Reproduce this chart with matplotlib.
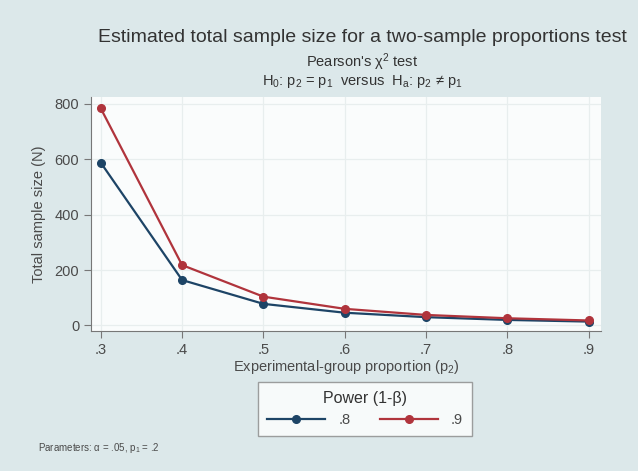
import matplotlib.pyplot as plt
from matplotlib.ticker import FixedLocator

plt.rcParams['font.family'] = ['Liberation Sans', 'DejaVu Sans']
plt.rcParams['mathtext.fontset'] = 'custom'
plt.rcParams['mathtext.rm'] = 'Liberation Sans'
plt.rcParams['mathtext.it'] = 'Liberation Sans:italic'
plt.rcParams['mathtext.default'] = 'rm'

# Data
p2 = [0.3, 0.4, 0.5, 0.6, 0.7, 0.8, 0.9]
n_power80 = [588, 164, 78, 46, 30, 20, 14]
n_power90 = [784, 218, 104, 60, 38, 26, 18]
x_ticks = [0.3, 0.4, 0.5, 0.6, 0.7, 0.8, 0.9]
x_labels = ['.3', '.4', '.5', '.6', '.7', '.8', '.9']
y_ticks = [0, 200, 400, 600, 800]

bg = '#dce8ea'
navy = '#1d4466'
red = '#b0343c'
txt = '#4a4a4a'

fig = plt.figure(figsize=(6.38, 4.71), dpi=100, facecolor=bg)
ax = fig.add_axes([91 / 638, 1 - 331 / 471, (601 - 91) / 638, (331 - 97) / 471])
ax.set_facecolor('#fafcfc')

ax.plot(p2, n_power80, color=navy, lw=1.6, marker='o', ms=5.5, label='.8', zorder=3)
ax.plot(p2, n_power90, color=red, lw=1.6, marker='o', ms=5.5, label='.9', zorder=3)

ax.set_xlim(0.288, 0.915)
ax.set_ylim(-20, 825)
ax.xaxis.set_major_locator(FixedLocator(x_ticks))
ax.set_xticklabels(x_labels)
ax.set_yticks(y_ticks)
ax.grid(True, color='#e8eeee', lw=0.9)
ax.tick_params(colors='#777777', labelcolor=txt, labelsize=10.5, length=5)
for side in ['top', 'right']:
    ax.spines[side].set_visible(False)
for side in ['left', 'bottom']:
    ax.spines[side].set_color('#777777')

ax.set_xlabel('Experimental-group proportion (p$_2$)', fontsize=10.5, color=txt, labelpad=1)
ax.set_ylabel('Total sample size (N)', fontsize=10.5, color=txt, labelpad=6)

fig.text(0.568, 1 - 38 / 471, 'Estimated total sample size for a two-sample proportions test',
         ha='center', va='center', fontsize=14, color='#333333')
fig.text(0.568, 1 - 62 / 471, "Pearson's $\\chi^{2}$ test", ha='center', va='center',
         fontsize=10.5, color='#333333')
fig.text(0.568, 1 - 81 / 471, 'H$_0$: p$_2$ = p$_1$  versus  H$_a$: p$_2$ ≠ p$_1$',
         ha='center', va='center', fontsize=10.5, color='#333333')

leg = fig.legend(loc='center', bbox_to_anchor=(365 / 638, 1 - 409 / 471), ncol=2,
                 title='Power (1-β)', title_fontsize=11.5, fontsize=10.5,
                 frameon=True, fancybox=False, edgecolor='#888888',
                 handlelength=4.0, columnspacing=2.0, borderpad=0.6, handletextpad=0.9)
leg.get_frame().set_facecolor('white')
leg.get_title().set_color('#333333')
for t in leg.get_texts():
    t.set_color(txt)

fig.text(38 / 638, 1 - 448 / 471, 'Parameters: α = .05, p$_1$ = .2', ha='left', va='center',
         fontsize=7, color=txt)

fig.savefig('out.png', dpi=100, facecolor=bg)
